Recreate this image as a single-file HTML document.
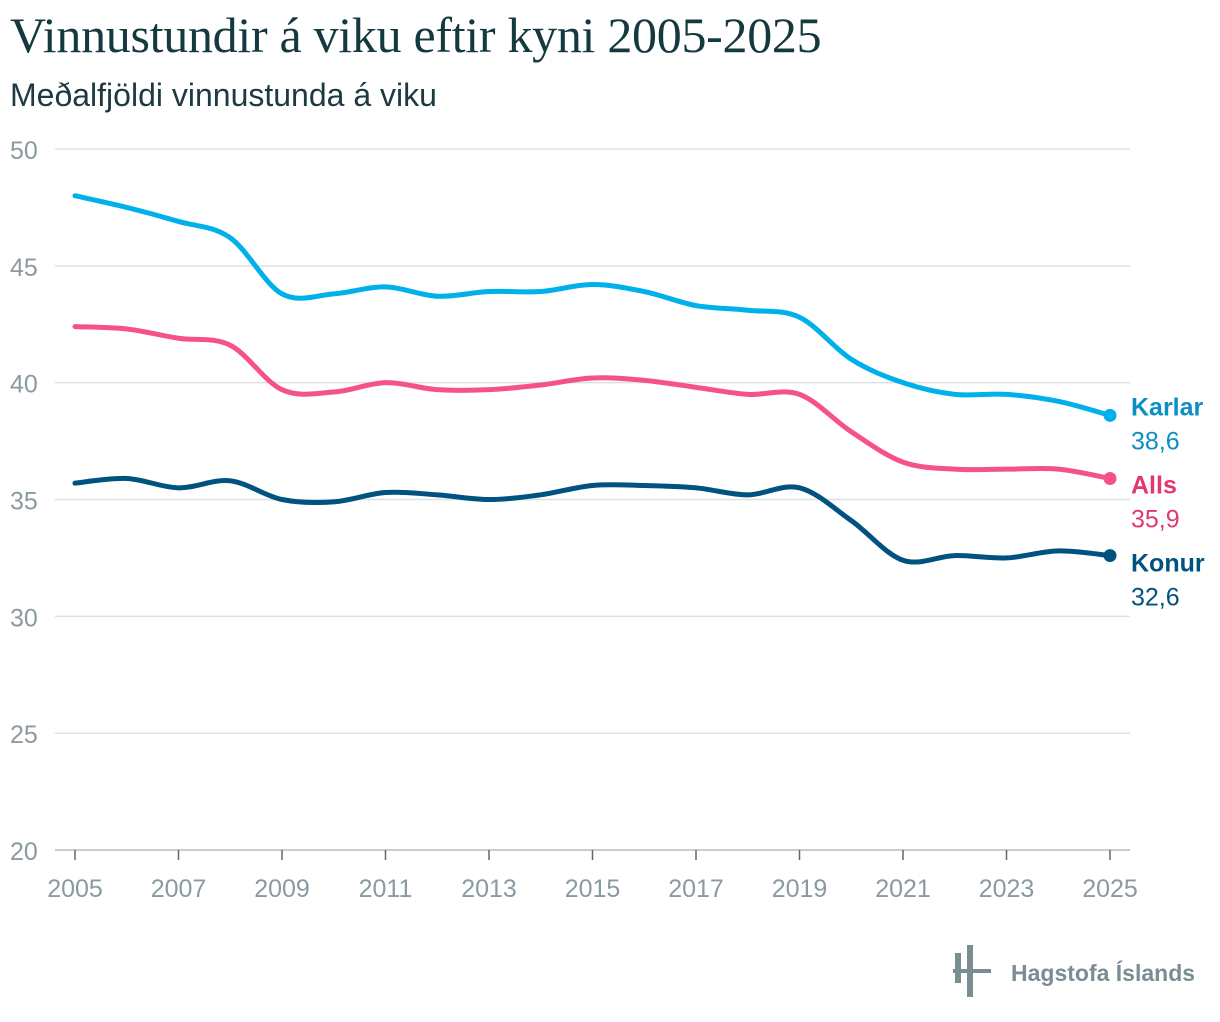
<!DOCTYPE html>
<html><head><meta charset="utf-8"><style>
body{margin:0;background:#fff;width:1220px;height:1022px;overflow:hidden;font-family:"Liberation Sans",sans-serif}
#title{position:absolute;left:10px;top:6px;font-family:"Liberation Serif",serif;font-size:50px;color:#14393f;margin:0;font-weight:normal;letter-spacing:-0.3px}
#sub{position:absolute;left:10px;top:77px;font-size:32px;color:#1d3a42;font-weight:300}
</style></head><body>
<h1 id="title">Vinnustundir á viku eftir kyni 2005-2025</h1>
<div id="sub">Meðalfjöldi vinnustunda á viku</div>
<svg id="chart" width="1220" height="1022" style="position:absolute;left:0;top:0"></svg>
<script>
const years=[2005,2006,2007,2008,2009,2010,2011,2012,2013,2014,2015,2016,2017,2018,2019,2020,2021,2022,2023,2024,2025];
const karlar=[48.0,47.5,46.9,46.2,43.8,43.8,44.1,43.7,43.9,43.9,44.2,43.9,43.3,43.1,42.8,41.0,40.0,39.5,39.5,39.2,38.6];
const alls=[42.4,42.3,41.9,41.6,39.7,39.6,40.0,39.7,39.7,39.9,40.2,40.1,39.8,39.5,39.5,37.9,36.6,36.3,36.3,36.3,35.9];
const konur=[35.7,35.9,35.5,35.8,35.0,34.9,35.3,35.2,35.0,35.2,35.6,35.6,35.5,35.2,35.5,34.1,32.4,32.6,32.5,32.8,32.6];
const yTicks=[20,25,30,35,40,45,50];
const xTicks=[2005,2007,2009,2011,2013,2015,2017,2019,2021,2023,2025];
const NS="http://www.w3.org/2000/svg";
const svg=document.getElementById('chart');
const X=v=>75+(v-2005)*(1110-75)/20;
const Y=v=>850-(v-20)*(850-149)/30;
function mk(t,a,p){const e=document.createElementNS(NS,t);for(const k in a)e.setAttribute(k,a[k]);(p||svg).appendChild(e);return e;}
yTicks.forEach(t=>{
 const g=mk('line',{x1:55,x2:1130,y1:Y(t),y2:Y(t),stroke:t==20?'#bbb':'#dde0e2','stroke-width':1.5});
 
 
 const l=mk('text',{x:10,y:Y(t)+10,'font-size':25,fill:'#8a9aa0','font-weight':300});
 l.textContent=t;
 
 
});
xTicks.forEach(t=>{
 const tk=mk('line',{x1:X(t),x2:X(t),y1:850,y2:860,stroke:'#666','stroke-width':1.5});
 
 
 const l=mk('text',{x:X(t),y:897,'font-size':25,fill:'#8a9aa0','text-anchor':'middle','font-weight':300});
 l.textContent=t;
 
 
});
function path(vals){
 const p=vals.map((v,i)=>[X(years[i]),Y(v)]);
 let d='M'+p[0][0]+','+p[0][1];
 for(let i=0;i<p.length-1;i++){
  const p0=p[Math.max(0,i-1)],p1=p[i],p2=p[i+1],p3=p[Math.min(p.length-1,i+2)];
  const c1=[p1[0]+(p2[0]-p0[0])/6,p1[1]+(p2[1]-p0[1])/6];
  const c2=[p2[0]-(p3[0]-p1[0])/6,p2[1]-(p3[1]-p1[1])/6];
  d+=` C${c1[0]},${c1[1]} ${c2[0]},${c2[1]} ${p2[0]},${p2[1]}`;
 }
 return d;
}
const series=[[karlar,'#00b0ea','Karlar','#0a8fc4'],[alls,'#f5528a','Alls','#e33675'],[konur,'#00527f','Konur','#00527f']];
let prevLab=-1000;
series.forEach(([vals,c,name,tc])=>{
 const ln=mk('path',{d:path(vals),fill:'none',stroke:c,'stroke-width':5,'stroke-linecap':'round'});
 
 
 const last=vals[vals.length-1];
 const dot=mk('circle',{cx:X(2025),cy:Y(last),r:6.5,fill:c});
 
 
 const ly=Math.max(Y(last)-8,prevLab+78);
 prevLab=ly;
 const n=mk('text',{x:1131,y:ly+8,'font-size':25,'font-weight':'bold',fill:tc});
 n.textContent=name;
 
 
 const v=mk('text',{x:1131,y:ly+42,'font-size':25,fill:tc});
 v.textContent=last.toFixed(1).replace('.',',');
 
 
});
const logo=mk('g',{fill:'#7a8d92'});


mk('rect',{x:955,y:953,width:6,height:30},logo);
mk('rect',{x:967,y:945,width:6,height:52},logo);
mk('rect',{x:953,y:969,width:38,height:4},logo);
const lt=mk('text',{x:1011,y:981,'font-size':23,'font-weight':'bold',fill:'#7a8d92'},logo);
lt.textContent='Hagstofa Íslands';
</script>
</body></html>
